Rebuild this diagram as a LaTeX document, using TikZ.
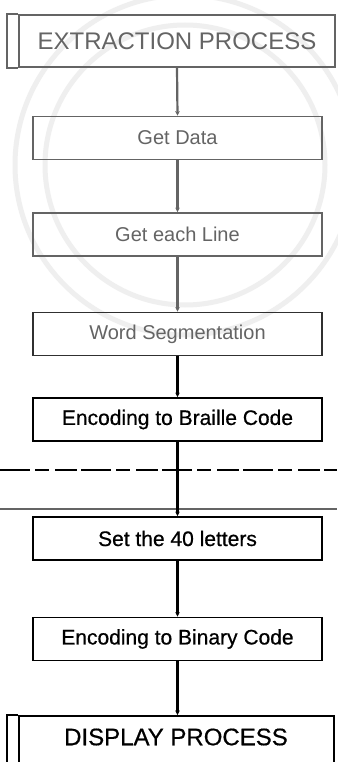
\documentclass[tikz,border=0pt]{standalone}
\usepackage{fontspec}
\setmainfont{Liberation Sans}
\usetikzlibrary{arrows.meta}

\definecolor{fadeink}{HTML}{646464}
\definecolor{midink}{HTML}{303030}
\definecolor{sealgray}{HTML}{EFEFEF}

\tikzset{
  stepbox/.style={draw, line width=1.7pt, minimum width=289pt, minimum height=43pt,
    inner sep=0pt, font=\fontsize{20}{24}\selectfont},
  darkstep/.style={stepbox, font=\fontsize{21}{25}\selectfont\addfontfeature{FakeBold=0.6}},
  procbox/.style={draw, line width=1.7pt, inner sep=0pt,
    font=\fontsize{24}{28}\selectfont},
  flow/.style={line width=2pt, -{Stealth[length=4.5pt, width=4.5pt]}},
}

\begin{document}
\begin{tikzpicture}[x=1pt, y=-1pt]
  \useasboundingbox (0,0) rectangle (337,762);
  \fill[white] (0,0) rectangle (337,762);

  % faint seal in the background
  \begin{scope}[sealgray, line width=5pt]
    \draw (185,165) circle[radius=170];
    \draw (185,165) circle[radius=140];
  \end{scope}

  % extraction process (predefined-process box)
  \node[procbox, draw=fadeink, text=fadeink, minimum width=316pt, minimum height=52pt]
    (extract) at (177,41) {EXTRACTION PROCESS};
  \draw[fadeink, line width=1.7pt] (extract.north west) -- ++(-11,0)
    |- (extract.south west);

  % processing steps
  \node[stepbox, draw=fadeink, text=fadeink] (getdata) at (177.5,138) {Get Data};
  \node[stepbox, draw=fadeink, text=fadeink] (getline) at (177.5,234.5) {Get each Line};
  \node[stepbox, draw=midink, text=fadeink] (wordseg) at (177.5,334) {Word Segmentation};
  \node[darkstep] (braille) at (177.5,419.5) {Encoding to Braille Code};
  \node[darkstep] (letters) at (177.5,538.5) {Set the 40 letters};
  \node[darkstep] (binary) at (177.5,639) {Encoding to Binary Code};

  % display process (predefined-process box, running off the page)
  \node[procbox, minimum width=315pt, minimum height=62pt, anchor=north]
    (display) at (176.5,715) {};
  \draw[line width=1.7pt] (display.north west) -- ++(-11,0) |- (display.south west);
  \node[font=\fontsize{24}{28}\selectfont\addfontfeature{FakeBold=0.5}, inner sep=0pt]
    (displaytext) at (176,737) {DISPLAY PROCESS};

  % separators between the two halves
  \draw[line width=1.1pt, dash pattern=on 30pt off 5pt on 14pt off 6pt on 22pt off 4pt]
    (0,470) -- (337,470);
  \draw[fadeink, line width=1.1pt] (0,509) -- (337,509);

  % connectors
  \draw[flow, draw=fadeink, fill=fadeink, line width=2.2pt] (extract.south) -- (getdata.north);
  \draw[flow, draw=fadeink, fill=fadeink, line width=2.2pt] (getdata.south) -- (getline.north);
  \draw[flow, draw=fadeink, fill=fadeink, line width=2.2pt] (getline.south) -- (wordseg.north);
  \draw[flow, line width=2.2pt] (wordseg.south) -- (braille.north);
  \draw[flow, line width=2.2pt] (braille.south) -- (letters.north);
  \draw[flow, line width=2.2pt] (letters.south) -- (binary.north);
  \draw[flow, line width=2.2pt] (binary.south) -- (display.north -| binary.south);
\end{tikzpicture}
\end{document}
